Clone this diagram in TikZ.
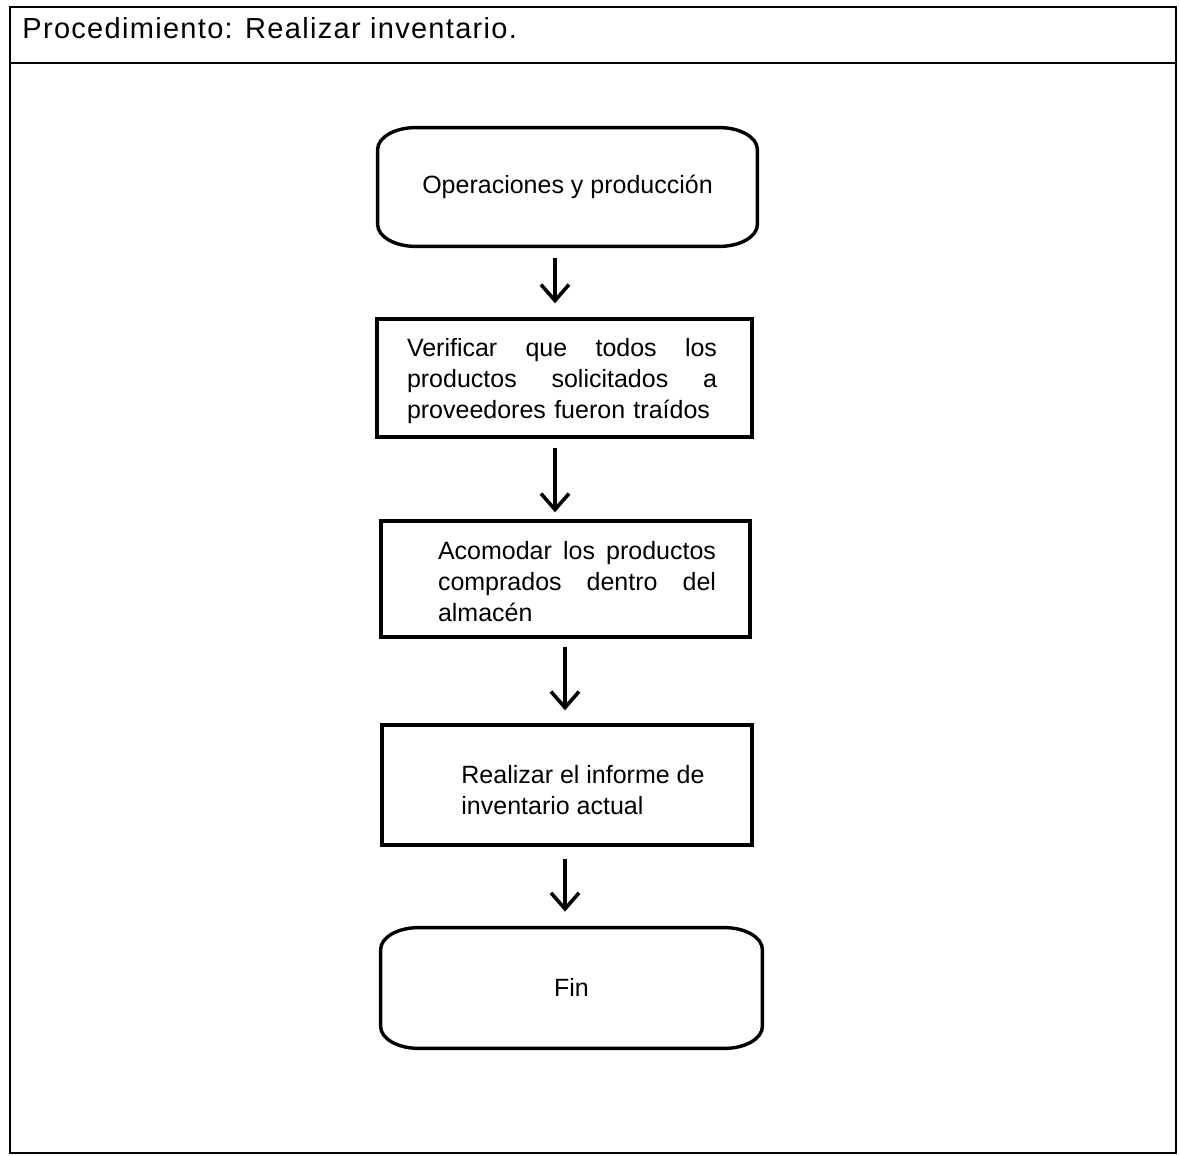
\documentclass[tikz,border=0pt]{standalone}
\usepackage{fontspec}
\setmainfont{Liberation Sans}
\newfontfamily\titlefont[LetterSpace=4.5]{Liberation Sans}
\usetikzlibrary{arrows.meta,calc}

\tikzset{
  frame/.style={line width=1pt},
  boxline/.style={line width=1.7pt},
  procbox/.style={draw, boxline, minimum width=#1, inner sep=0pt},
  termbox/.style={inner sep=0pt, font=\fontsize{12.5}{15.5}\selectfont},
  bodytext/.style={inner sep=0pt, font=\fontsize{12.5}{15.5}\selectfont},
  arr/.style={line width=1.8pt, -{Straight Barb[length=8pt,width=14pt,line width=1.8pt]}},
}

% rounded-end terminator outline drawn around a named node
\newcommand\termoutline[1]{%
  \draw[boxline]
    ($(#1.north west)+(19pt,0pt)$) -- ($(#1.north east)+(-19pt,0pt)$)
    arc[start angle=90,end angle=0,x radius=19pt,y radius=11pt]
    -- ($(#1.south east)+(0pt,11pt)$)
    arc[start angle=0,end angle=-90,x radius=19pt,y radius=11pt]
    -- ($(#1.south west)+(19pt,0pt)$)
    arc[start angle=270,end angle=180,x radius=19pt,y radius=11pt]
    -- ($(#1.north west)+(0pt,-11pt)$)
    arc[start angle=180,end angle=90,x radius=19pt,y radius=11pt]
    -- cycle;}

\begin{document}
\begin{tikzpicture}[x=0.5pt,y=-0.5pt]
\useasboundingbox (0,0) rectangle (1179,1156);

% outer frame and header
\draw[frame] (10,7) rectangle (1176,1153);
\draw[line width=0.8pt] (10,63) -- (1176,63);
\node[anchor=west, inner sep=0pt, font=\fontsize{14.5}{17}\selectfont\titlefont] (title) at (22,28)
  {Procedimiento: Realizar inventario.};

% flow steps
\node[termbox, minimum width=189.5pt, minimum height=59pt] (start) at (567.5,187)
  {\raisebox{-1.5pt}{Operaciones y producci\'on}};
\termoutline{start}

\node[procbox=187.5pt, minimum height=59pt] (b2) at (564.5,378) {};
\node[bodytext, text width=155pt, align=left] (t2) at (562,381)
  {Verificar\hfill que\hfill todos\hfill los\\productos\hfill solicitados\hfill a\\proveedores fueron tra\'idos};

\node[procbox=184.5pt, minimum height=58pt] (b3) at (565.5,579) {};
\node[bodytext, text width=139pt, align=left] (t3) at (577,582)
  {Acomodar\hfill los\hfill productos\\comprados\hfill dentro\hfill del\\almac\'en};

\node[procbox=185pt, minimum height=60pt] (b4) at (567,785) {};
\node[bodytext, anchor=west, align=left] (t4) at (461,790)
  {Realizar el informe de\\inventario actual};

\node[termbox, minimum width=190.5pt, minimum height=60pt] (fin) at (571.5,988) {\raisebox{1pt}{Fin}};
\termoutline{fin}

% connectors
\draw[arr, shorten <=6pt, shorten >=7pt]
  ([xshift=-6.25pt]start.south) -- ([xshift=-6.25pt]start.south |- b2.north);
\draw[arr, shorten <=4.5pt, shorten >=3.5pt]
  ([xshift=-4.75pt]b2.south) -- ([xshift=-4.75pt]b2.south |- b3.north);
\draw[arr, shorten <=4pt, shorten >=6.5pt]
  ([xshift=-0.25pt]b3.south) -- ([xshift=-0.25pt]b3.south |- b4.north);
\draw[arr, shorten <=6pt, shorten >=8pt]
  ([xshift=-1pt]b4.south) -- ([xshift=-1pt]b4.south |- fin.north);
\end{tikzpicture}
\end{document}
